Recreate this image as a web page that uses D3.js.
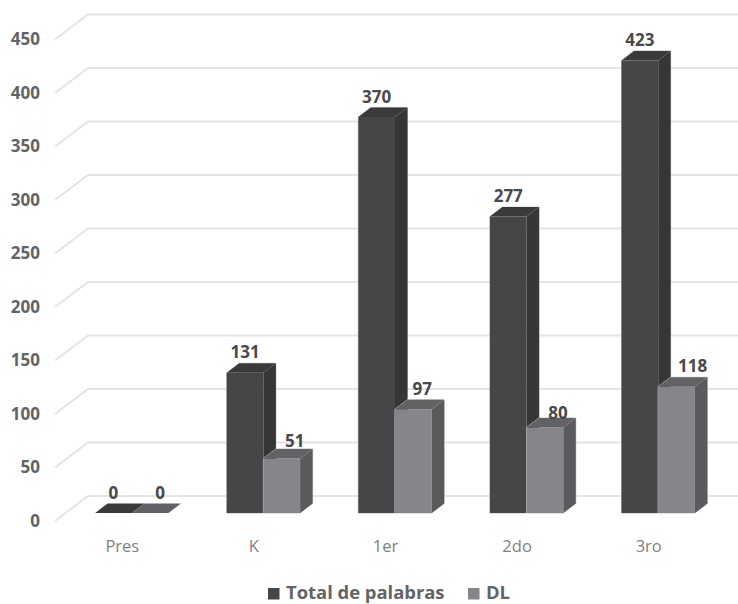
<!DOCTYPE html>
<html>
<head>
<meta charset="utf-8">
<script src="https://cdn.jsdelivr.net/npm/d3@7/dist/d3.min.js"></script>
<style>
  html, body { margin: 0; padding: 0; background: #fff; }
  svg { display: block; font-family: "Open Sans", sans-serif; }
</style>
</head>
<body>
<svg id="chart" width="738" height="604"></svg>
<script>
// Chart data
const categories = ["Pres", "K", "1er", "2do", "3ro"];
const totalPalabras = [0, 131, 370, 277, 423];
const dl = [0, 51, 97, 80, 118];
const yTicks = [0, 50, 100, 150, 200, 250, 300, 350, 400, 450];
const seriesNames = ["Total de palabras", "DL"];

// Data label nudges (dx, dy) away from the default spot above each bar
const totalLabelNudge = [[0, 0], [0, 0], [0, 0], [0, 0], [0, 0]];
const dlLabelNudge = [[10, 0], [13, 3], [9, 0], [13, 6], [16, 0]];

// Oblique projection used for the walls and the bars
const wall = { dx: 33, dy: -25, frontX: 55, floorOffset: 8, rightX: 738 };
const bar = { dx: 12.5, dy: -9.5 };

const palette = [
  { front: "#454648", side: "#363637", top: "#3a3a3b" },
  { front: "#858689", side: "#5a5a5c", top: "#626264" }
];

const svg = d3.select("#chart");

const y = d3.scaleLinear().domain([0, 450]).range([513, 31.5]);
const x = d3.scaleBand().domain(categories).range([66, 724]);
const inner = d3.scaleBand().domain(seriesNames).range([0, 73.4]);
const groupInset = (x.bandwidth() - inner.range()[1]) / 2;
const barLeft = (cat, s) => x(cat) + groupInset + inner(s);

// Side wall and back wall gridlines
const grid = svg.append("g")
  .attr("fill", "none")
  .attr("stroke", "#e4e4e4")
  .attr("stroke-width", 2);
grid.selectAll("path")
  .data(yTicks)
  .join("path")
  .attr("d", t => {
    const front = y(t) + wall.floorOffset;
    const back = front + wall.dy;
    return d3.line()([[wall.frontX, front], [wall.frontX + wall.dx, back], [wall.rightX, back]]);
  });

// Value axis
const yAxis = svg.append("g")
  .attr("transform", `translate(40,${wall.floorOffset})`)
  .call(d3.axisLeft(y).tickValues(yTicks).tickSize(0).tickPadding(0));
yAxis.select(".domain").remove();
yAxis.selectAll("text")
  .attr("font-family", '"Open Sans", sans-serif')
  .attr("font-size", 17)
  .attr("font-weight", 700)
  .attr("fill", "#636466");

// Category axis
const xAxis = svg.append("g")
  .attr("transform", "translate(-9.5,540)")
  .call(d3.axisBottom(x).tickSize(0).tickPadding(0));
xAxis.select(".domain").remove();
xAxis.selectAll("text")
  .attr("font-family", '"Open Sans", sans-serif')
  .attr("font-size", 16.5)
  .attr("fill", "#808184");

// Bars: a pale outline behind the solid front, side and top faces
const series = [
  { name: seriesNames[0], values: totalPalabras, colors: palette[0], nudge: totalLabelNudge },
  { name: seriesNames[1], values: dl, colors: palette[1], nudge: dlLabelNudge }
];
const w = inner.bandwidth();
const baseY = y(0);
const poly = d3.line();
categories.forEach((cat, i) => {
  series.forEach(s => {
    const x0 = barLeft(cat, s.name);
    const topY = y(s.values[i]);
    const g = svg.append("g");
    if (s.values[i] > 0) {
      g.append("path")
        .attr("fill", "none").attr("stroke", "#c4c5c7").attr("stroke-width", 1)
        .attr("d", poly([[x0, baseY], [x0, topY], [x0 + bar.dx, topY + bar.dy],
          [x0 + w + bar.dx, topY + bar.dy], [x0 + w + bar.dx, baseY + bar.dy], [x0 + w, baseY]]) + "Z");
      g.append("path").attr("fill", s.colors.front)
        .attr("d", poly([[x0, topY], [x0 + w, topY], [x0 + w, baseY], [x0, baseY]]) + "Z");
      g.append("path").attr("fill", s.colors.side)
        .attr("d", poly([[x0 + w, topY], [x0 + w + bar.dx, topY + bar.dy], [x0 + w + bar.dx, baseY + bar.dy], [x0 + w, baseY]]) + "Z");
    }
    g.append("path").attr("fill", s.colors.top)
      .attr("d", poly([[x0, topY], [x0 + w, topY], [x0 + w + bar.dx, topY + bar.dy], [x0 + bar.dx, topY + bar.dy]]) + "Z");
  });
});

// Data labels stay above the bars
categories.forEach((cat, i) => {
  series.forEach(s => {
    const x0 = barLeft(cat, s.name);
    svg.append("text")
      .attr("x", x0 + w / 2 + s.nudge[i][0])
      .attr("y", y(s.values[i]) + bar.dy - 5 + s.nudge[i][1])
      .attr("text-anchor", "middle")
      .attr("font-size", 17)
      .attr("font-weight", 700)
      .attr("fill", "#48494b")
      .text(s.values[i]);
  });
});

// Legend
const legendItems = [
  { name: seriesNames[0], color: palette[0].front, sx: 268, tx: 286 },
  { name: seriesNames[1], color: palette[1].front, sx: 468, tx: 486 }
];
const legend = svg.append("g");
legendItems.forEach(d => {
  legend.append("rect").attr("x", d.sx).attr("y", 588).attr("width", 11.5).attr("height", 11.5).attr("fill", d.color);
  legend.append("text")
    .attr("x", d.tx).attr("y", 599)
    .attr("font-size", 18.4)
    .attr("font-weight", 700)
    .attr("fill", "#636466")
    .text(d.name);
});
</script>
</body>
</html>
